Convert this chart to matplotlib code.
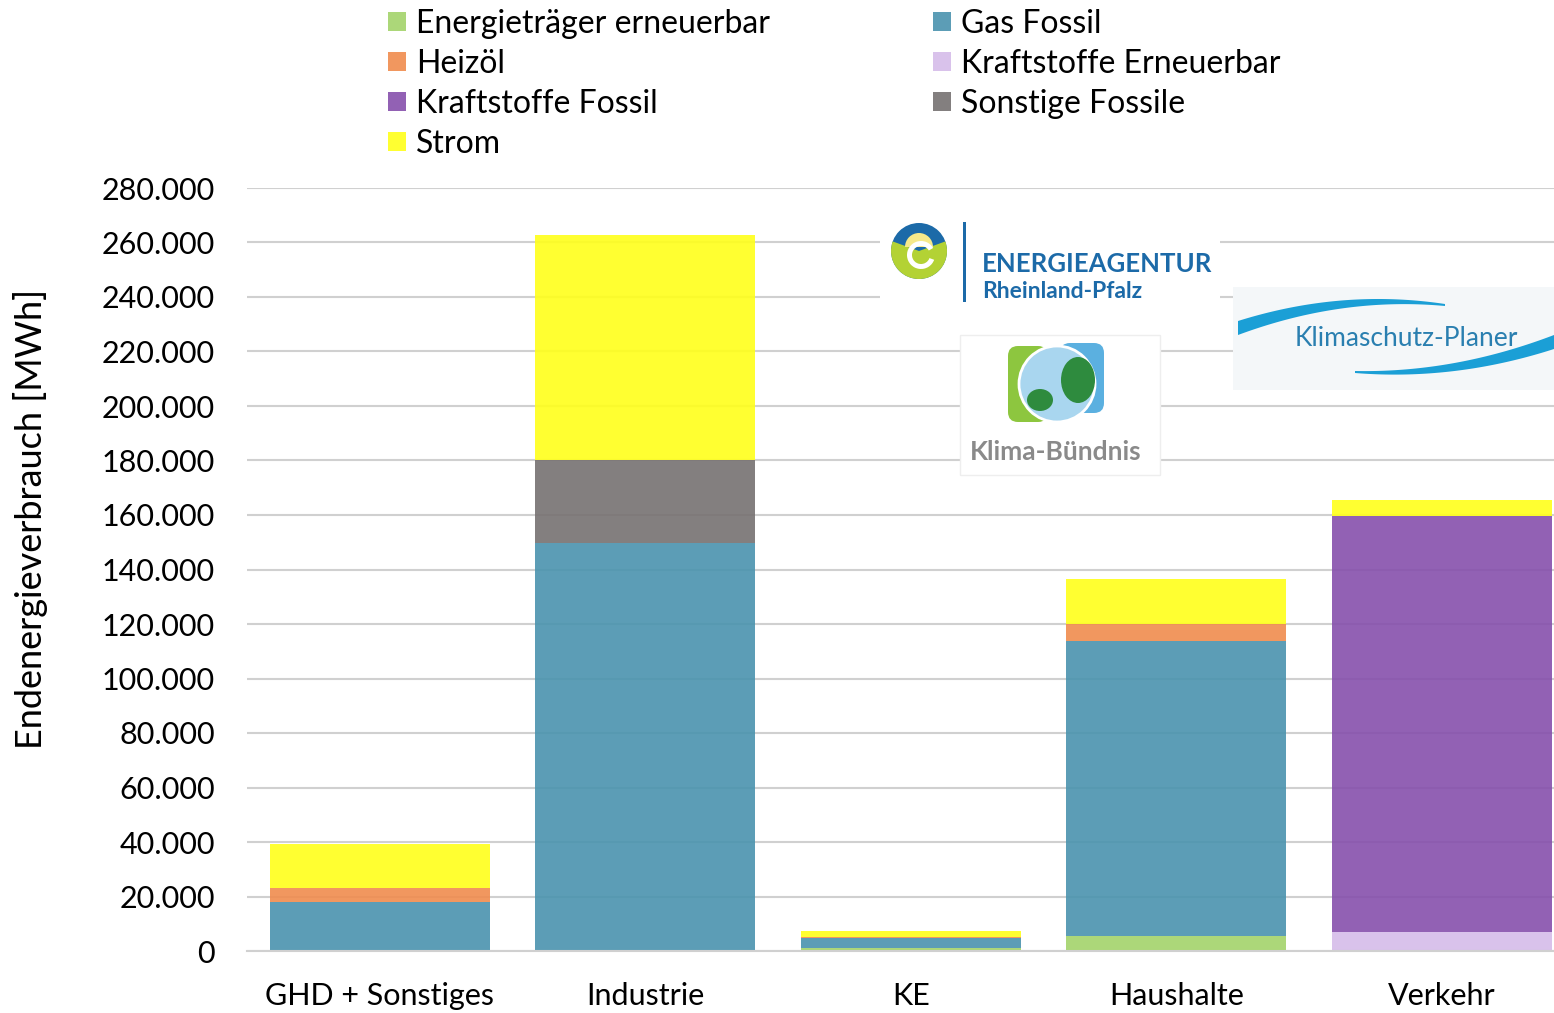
import numpy as np
import matplotlib.pyplot as plt
from matplotlib.patches import Rectangle, Circle, Ellipse, Wedge, Polygon, FancyBboxPatch
from matplotlib.ticker import FuncFormatter

plt.rcParams['font.family'] = ['Lato', 'DejaVu Sans']

sektoren = ["GHD + Sonstiges", "Industrie", "KE", "Haushalte", "Verkehr"]

# Werte in MWh, von unten nach oben gestapelt
energietraeger_erneuerbar = [0, 0, 1200, 5500, 0]
gas_fossil = [18100, 149800, 3700, 108400, 0]
heizoel = [5100, 0, 400, 6100, 0]
kraftstoffe_erneuerbar = [0, 0, 0, 0, 7000]
kraftstoffe_fossil = [0, 0, 0, 0, 152700]
sonstige_fossile = [0, 30400, 0, 0, 0]
strom = [16000, 82600, 2200, 16500, 5800]

reihen = [
    ("Energieträger erneuerbar", energietraeger_erneuerbar, "#a3d36a"),
    ("Gas Fossil", gas_fossil, "#4a93ae"),
    ("Heizöl", heizoel, "#f08c4e"),
    ("Kraftstoffe Erneuerbar", kraftstoffe_erneuerbar, "#d5bce9"),
    ("Kraftstoffe Fossil", kraftstoffe_fossil, "#8650ac"),
    ("Sonstige Fossile", sonstige_fossile, "#767171"),
    ("Strom", strom, "#ffff1a"),
]


def swoosh(x0, x1, y0, y1, bow, w0, w1):
    # gebogener Streifen, Dicke von w0 nach w1
    t = np.linspace(0, 1, 60)
    xs = x0 + (x1 - x0) * t
    ys = y0 + (y1 - y0) * t - bow * 4 * t * (1 - t)
    w = w0 + (w1 - w0) * t
    oben = np.column_stack([xs, ys - w / 2])
    unten = np.column_stack([xs[::-1], (ys + w / 2)[::-1]])
    return np.vstack([oben, unten])


def main():
    fig = plt.figure(figsize=(15.54, 10.13), dpi=100)
    W, H = 1554, 1013
    ax = fig.add_axes([247 / W, 62 / H, (1554 - 247) / W, 763 / H])

    x = np.arange(len(sektoren))
    unten = np.zeros(len(sektoren))
    handles = {}
    for name, werte, farbe in reihen:
        werte = np.array(werte, dtype=float)
        b = ax.bar(x, werte, width=0.83, bottom=unten, color=farbe, alpha=0.9,
                   label=name, zorder=2)
        handles[name] = b
        unten += werte

    ax.set_xlim(-0.5, 4.423)
    ax.set_ylim(0, 280000)
    ax.set_yticks(np.arange(0, 280001, 20000))
    ax.yaxis.set_major_formatter(FuncFormatter(lambda v, p: f"{int(v):,}".replace(",", ".")))
    ax.grid(axis="y", color="#d0d0d0", linewidth=1.5, zorder=1)
    ax.set_axisbelow(True)
    for s in ["top", "right", "left"]:
        ax.spines[s].set_visible(False)
    ax.spines["bottom"].set_color("#d0d0d0")
    ax.spines["bottom"].set_linewidth(1.5)
    ax.set_xticks(x)
    ax.set_xticklabels(sektoren)
    ax.tick_params(axis="both", length=0, labelsize=22, colors="black")
    ax.tick_params(axis="y", pad=23)
    ax.tick_params(axis="x", pad=22)
    ax.set_ylabel("Endenergieverbrauch [MWh]", fontsize=26)
    ax.yaxis.set_label_coords(-0.152, 0.566)

    order = ["Energieträger erneuerbar", "Heizöl", "Kraftstoffe Fossil", "Strom",
             "Gas Fossil", "Kraftstoffe Erneuerbar", "Sonstige Fossile"]
    fig.legend([handles[n] for n in order], order, ncol=2, frameon=False,
               fontsize=23, loc="upper left", bbox_to_anchor=(369 / W, 1.01),
               handlelength=0.56, handleheight=0.56, handletextpad=0.31,
               columnspacing=5.1, labelspacing=0.31, borderaxespad=0.2)

    # Logos (vereinfacht)
    la = fig.add_axes([0, 0, 1, 1], zorder=5)
    la.set_xlim(0, W)
    la.set_ylim(H, 0)
    la.axis("off")

    # Energieagentur Rheinland-Pfalz
    la.add_patch(Rectangle((880, 215), 340, 97, facecolor="white", edgecolor="none"))
    la.add_patch(Circle((919, 251), 28, facecolor="#1c6aa8", edgecolor="none"))
    la.add_patch(Wedge((919, 251), 28, -20, 200, facecolor="#b3d234", edgecolor="none"))
    la.add_patch(Wedge((919, 247), 14, 180, 360, facecolor="#f6e98a", edgecolor="none"))
    la.add_patch(Wedge((921, 255), 14, 20, 330, width=5, facecolor="white", edgecolor="none"))
    la.add_patch(Rectangle((963, 222), 3, 80, facecolor="#1c6aa8", edgecolor="none"))
    la.text(982, 264, "ENERGIEAGENTUR", color="#1c6aa8", fontsize=18.5, fontweight="bold",
            va="center", ha="left")
    la.text(982, 291, "Rheinland-Pfalz", color="#1c6aa8", fontsize=16.5, fontweight="bold",
            va="center", ha="left")

    # Klima-Bündnis
    la.add_patch(Rectangle((960, 335), 200, 140, facecolor="white", edgecolor="#eeeeee"))
    la.add_patch(FancyBboxPatch((1008, 346), 40, 76, boxstyle="round,pad=0,rounding_size=10",
                                facecolor="#8dc63f", edgecolor="none"))
    la.add_patch(FancyBboxPatch((1060, 343), 44, 70, boxstyle="round,pad=0,rounding_size=10",
                                facecolor="#5bb0e0", edgecolor="none"))
    la.add_patch(Circle((1057, 384), 38, facecolor="#a9d6ef", edgecolor="white", linewidth=2))
    la.add_patch(Ellipse((1078, 380), 34, 46, facecolor="#2e8b3e", edgecolor="none"))
    la.add_patch(Ellipse((1040, 400), 26, 22, facecolor="#2e8b3e", edgecolor="none"))
    la.text(1056, 452, "Klima-Bündnis", color="#8a8a8a", fontsize=19, fontweight="bold",
            va="center", ha="center")

    # Klimaschutz-Planer
    la.add_patch(Rectangle((1233, 287), 321, 103, facecolor="#f4f7f9", edgecolor="none"))
    la.add_patch(Polygon(swoosh(1238, 1445, 328, 305, 12, 14, 2), closed=True,
                         facecolor="#1b9fd6", edgecolor="none"))
    la.add_patch(Polygon(swoosh(1355, 1554, 372, 342, -10, 2, 14), closed=True,
                         facecolor="#1b9fd6", edgecolor="none"))
    la.text(1406, 338, "Klimaschutz-Planer", color="#2a7fb0", fontsize=19,
            va="center", ha="center")

    fig.savefig("out.png", dpi=100)


if __name__ == "__main__":
    main()
